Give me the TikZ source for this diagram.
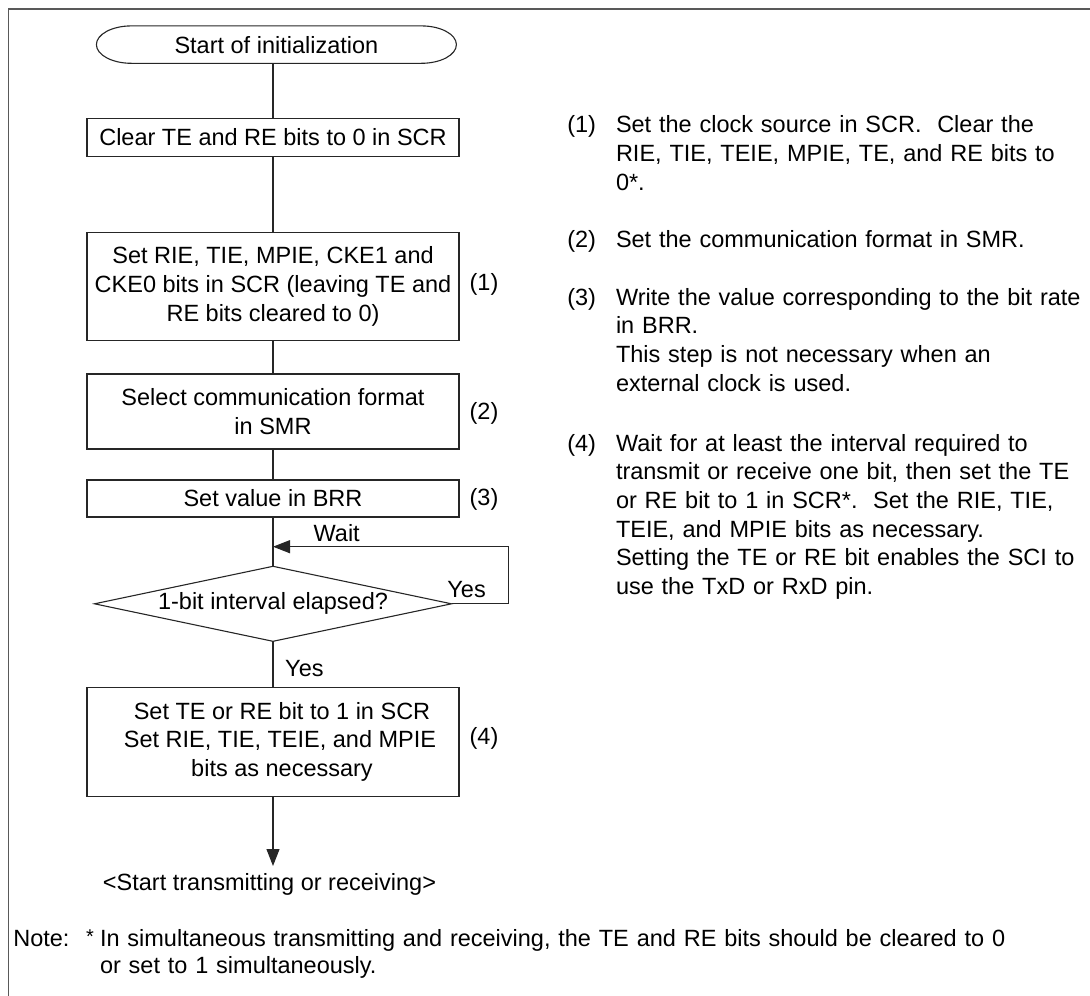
\documentclass[tikz,border=0pt]{standalone}
\usepackage{fontspec}
\setmainfont{Liberation Sans}
\usetikzlibrary{arrows.meta,shapes.geometric,calc}
\begin{document}
\begin{tikzpicture}[x=1pt,y=-1pt]
\tikzset{
  every node/.style={font=\fontsize{23.5pt}{28.7pt}\selectfont, inner sep=0pt, outer sep=0pt},
  lw/.style={draw=black!85, line width=1.1pt},
  procbox/.style={lw, minimum width=372pt, align=center},
  conn/.style={lw},
  arr/.style={lw, -{Triangle[length=17pt,width=13pt]}},
  frameline/.style={draw=black!65, line width=1.3pt},
  steplbl/.style={anchor=center},
  desc/.style={anchor=base west, text width=474pt, align=left},
  numlbl/.style={anchor=base west},
}
\useasboundingbox (0,0) rectangle (1090,996);
% frame (top and left edges)
\draw[frameline] (8.5,996) -- (8.5,9) -- (1090,9);

% terminal
\node[minimum width=360pt, minimum height=37.4pt] (start) at (276.4,44.6) {Start of initialization};
\draw[lw] ([xshift=35pt]start.north west) -- ([xshift=-35pt]start.north east)
   arc[start angle=90, end angle=-90, x radius=35pt, y radius=18.7pt]
   -- ([xshift=35pt]start.south west)
   arc[start angle=270, end angle=90, x radius=35pt, y radius=18.7pt] -- cycle;

% process boxes
\node[procbox, minimum height=38pt] (b1) at (273,137.5) {Clear TE and RE bits to 0 in SCR};
\node[procbox, minimum height=108.4pt] (b2) at (273,286.5) {Set RIE, TIE, MPIE, CKE1 and\\CKE0 bits in SCR (leaving TE and\\RE bits cleared to 0)};
\node[procbox, minimum height=75pt] (b3) at (273,411.5) {Select communication format\\in SMR};
\node[procbox, minimum height=37pt] (b4) at (273,498.5) {Set value in BRR};
\node[lw, diamond, aspect=4.8, minimum width=357pt, minimum height=75pt] (d) at (273,603.8) {1-bit interval elapsed?};
\node[procbox, minimum height=108.7pt] (b5) at (273,741.7) {\hspace*{18pt}Set TE or RE bit to 1 in SCR\\\hspace*{14pt}Set RIE, TIE, TEIE, and MPIE\\\hspace*{18pt}bits as necessary};

% step labels
\node[steplbl] (s1) at (484,284) {(1)};
\node[steplbl] (s2) at (484,413) {(2)};
\node[steplbl] (s3) at (484,499.5) {(3)};
\node[steplbl] (s4) at (484,738.5) {(4)};

% connectors
\draw[conn] (b1.north |- start.south) -- (b1.north);
\draw[conn] (b1.south) -- (b2.north);
\draw[conn] (b2.south) -- (b3.north);
\draw[conn] (b3.south) -- (b4.north);
\draw[conn] (b4.south) -- (d.north);
\draw[conn] (d.south) -- (b5.north);
\coordinate (wj) at (273,546.7);
\draw[arr] (d.east) -- ++(57pt,0) |- (wj);
\coordinate (endp) at (273,866);
\draw[arr] (b5.south) -- (endp);

% branch labels
\node[anchor=base] (wait) at (336.7,541) {Wait};
\node[anchor=base] (yesr) at (466.6,597) {Yes};
\node[anchor=base] (yesd) at (304.4,676) {Yes};

% end text
\node[anchor=base] (endt) at (269.5,890.7) {<Start transmitting or receiving>};

% right-hand descriptions
\node[numlbl] (n1) at (567.3,132.6) {(1)};
\node[desc] (t1) at (616,132.6) {Set the clock source in SCR.\ \ Clear the\\RIE, TIE, TEIE, MPIE, TE, and RE bits to\\0*.};
\node[numlbl] (n2) at (567.3,247.7) {(2)};
\node[desc] (t2) at (616,247.7) {Set the communication format in SMR.};
\node[numlbl] (n3) at (567.3,305) {(3)};
\node[desc] (t3) at (616,305) {Write the value corresponding to the bit rate\\in BRR.\\This step is not necessary when an\\external clock is used.};
\node[numlbl] (n4) at (567.3,451) {(4)};
\node[desc] (t4) at (616,451) {Wait for at least the interval required to\\transmit or receive one bit, then set the TE\\or RE bit to 1 in SCR*.\ \ Set the RIE, TIE,\\TEIE, and MPIE bits as necessary.\\Setting the TE or RE bit enables the SCI to\\use the TxD or RxD pin.};

% note
\node[numlbl] (note) at (13.3,946.7) {Note:};
\node[numlbl, font=\fontsize{20pt}{24pt}\selectfont] (ast) at (86,943.5) {*};
\node[desc, text width=985pt, font=\fontsize{23.5pt}{26.3pt}\selectfont] (nt) at (100,946.7) {In simultaneous transmitting and receiving, the TE and RE bits should be cleared to 0\\or set to 1 simultaneously.};
\end{tikzpicture}
\end{document}
